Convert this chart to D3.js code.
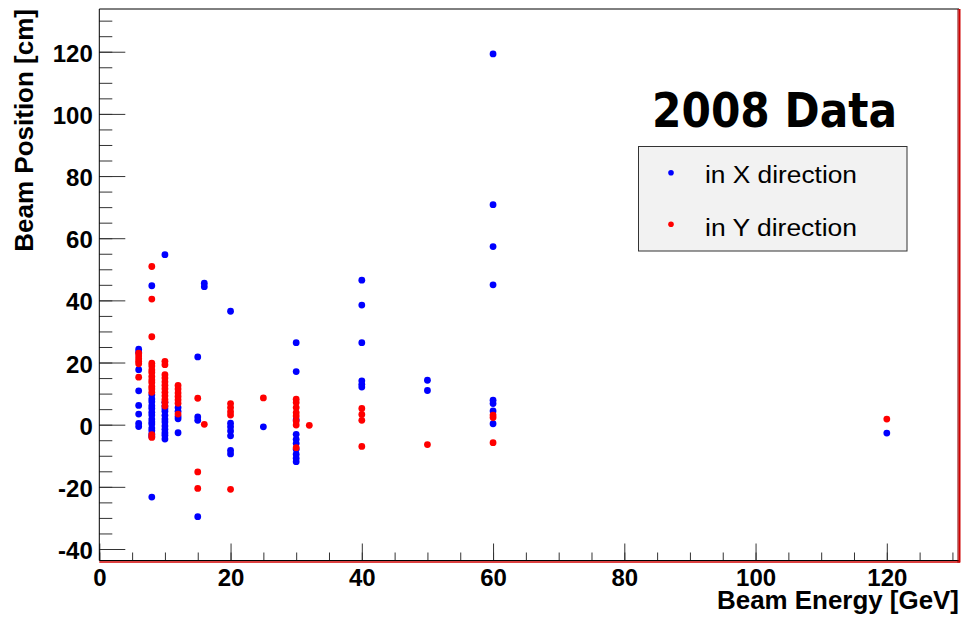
<!DOCTYPE html>
<html>
<head>
<meta charset="utf-8">
<script src="https://cdn.jsdelivr.net/npm/d3@7"></script>
<style>
  body { margin: 0; background: #fff; }
  svg { display: block; }
  text { font-family: "Liberation Sans", Arial, Helvetica, sans-serif; }
</style>
</head>
<body>
<svg id="graph" width="961" height="622"></svg>
<script>
// beam position vs beam energy, 2008 data  [energy GeV, position cm]
const xDirection = [
  [6, 24.3], [6, 23.3], [6, 17.7], [6, 10.9], [6, 6.2], [6, 3.4], [6, 0.4], [6, -0.6],
  [8, 44.7], [8, 9.6], [8, 8.3], [8, 7.4], [8, 6.1], [8, 5.2], [8, 4.0], [8, 3.1], [8, 1.8],
  [8, 0.9], [8, 0.2], [8, -1.1], [8, -1.9], [8, -3.0], [8, -3.8], [8, -23.3],
  [10, 54.7], [10, 7.2], [10, 6.0], [10, 5.1], [10, 4.3], [10, 3.0], [10, 1.8], [10, 0.9],
  [10, -0.4], [10, -1.5], [10, -2.6], [10, -3.4], [10, -4.6],
  [12, 5.5], [12, 4.3], [12, 2.6], [12, 1.9], [12, -2.6],
  [15, 21.8], [15, 2.5], [15, 1.4], [15, -29.6],
  [16, 45.5], [16, 44.4],
  [20, 36.5], [20, 0.5], [20, -0.7], [20, -2.0], [20, -3.6], [20, -8.3], [20, -9.4],
  [25, -0.7],
  [30, 26.4], [30, 17.1], [30, 1.6], [30, -3.1], [30, -4.7], [30, -6.0], [30, -7.9],
  [30, -9.5], [30, -10.8], [30, -11.9],
  [40, 46.5], [40, 38.5], [40, 26.4], [40, 14.1], [40, 13.0], [40, 12.1],
  [50, 14.3], [50, 11.0],
  [60, 119.3], [60, 70.8], [60, 57.3], [60, 45.0], [60, 7.9], [60, 6.8], [60, 4.4], [60, 0.3],
  [120, -2.7]
];
const yDirection = [
  [6, 23.0], [6, 22.1], [6, 21.2], [6, 20.4], [6, 19.6], [6, 15.3],
  [8, 50.9], [8, 40.4], [8, 28.3], [8, 19.8], [8, 18.9], [8, 17.6], [8, 16.8], [8, 15.5],
  [8, 14.4], [8, 13.6], [8, 12.3], [8, 11.5], [8, 10.4], [8, -3.2], [8, -4.1],
  [10, 20.4], [10, 19.3], [10, 16.1], [10, 15.0], [10, 13.8], [10, 12.7], [10, 11.6],
  [10, 10.4], [10, 9.3], [10, 8.1], [10, 7.2], [10, 6.0],
  [12, 12.6], [12, 11.5], [12, 10.2], [12, 9.1], [12, 8.0], [12, 6.9], [12, 3.4],
  [15, 8.5], [15, -15.2], [15, -20.5],
  [16, 0.1],
  [20, 6.8], [20, 5.5], [20, 4.2], [20, 3.1], [20, -20.8],
  [25, 8.6],
  [30, 8.2], [30, 7.1], [30, 5.5], [30, 3.9], [30, 2.8], [30, 1.2], [30, -0.1], [30, -7.4],
  [32, -0.2],
  [40, 5.2], [40, 3.3], [40, 1.4], [40, -7.0],
  [50, -6.4],
  [60, 3.1], [60, 2.3], [60, -5.8],
  [120, 1.8]
];

const xMajorTicks = [0, 20, 40, 60, 80, 100, 120];
const xMinorTicks = d3.range(0, 131, 5);
const yMajorTicks = [-40, -20, 0, 20, 40, 60, 80, 100, 120];
const yMinorTicks = d3.range(-40, 131, 5);
const seriesNames = ["in X direction", "in Y direction"];
const seriesColors = ["#0000ff", "#ff0000"];
const titleText = "2008 Data";

const svg = d3.select("#graph");

// plot frame in pixels
const frameLeft = 99.3, frameRight = 959, frameTop = 9, frameBottom = 560.5;

const x = d3.scaleLinear().domain([0, 131]).range([frameLeft, frameRight]);
const y = d3.scaleLinear().domain([-43.7, 133.75]).range([frameBottom, frameTop]);

// plain hyphen for negatives, like the original
const plainLabel = d => String(d);

// minor ticks first, then major ticks with labels
svg.append("g").attr("transform", `translate(0,${frameBottom})`)
  .call(d3.axisBottom(x).tickValues(xMinorTicks).tickSize(-8).tickFormat(""));
svg.append("g").attr("transform", `translate(${frameLeft},0)`)
  .call(d3.axisLeft(y).tickValues(yMinorTicks).tickSize(-13).tickFormat(""));

svg.append("g").attr("class", "xaxis").attr("transform", `translate(0,${frameBottom})`)
  .call(d3.axisBottom(x).tickValues(xMajorTicks).tickSize(-17).tickPadding(9).tickFormat(plainLabel));
svg.append("g").attr("class", "yaxis").attr("transform", `translate(${frameLeft},0)`)
  .call(d3.axisLeft(y).tickValues(yMajorTicks).tickSize(-26).tickPadding(6.5).tickFormat(plainLabel));

svg.selectAll(".domain").remove();
svg.selectAll(".tick line").attr("stroke", "#333").attr("stroke-width", 1);
svg.selectAll(".tick text")
  .attr("fill", "#000")
  .style("font-size", "24px")
  .style("font-weight", "bold");
svg.selectAll(".xaxis .tick text").attr("dy", "0.7em");
svg.selectAll(".yaxis .tick text").attr("dy", "0.4em");

// frame lines
svg.append("line").attr("x1", frameLeft).attr("x2", frameRight).attr("y1", frameTop).attr("y2", frameTop)
  .attr("stroke", "#000").attr("stroke-width", 1);
svg.append("line").attr("x1", frameLeft).attr("x2", frameLeft).attr("y1", frameTop).attr("y2", frameBottom)
  .attr("stroke", "#000").attr("stroke-width", 1);
svg.append("line").attr("x1", frameLeft).attr("x2", frameRight + 1).attr("y1", frameBottom).attr("y2", frameBottom)
  .attr("stroke", "#000").attr("stroke-width", 1);
svg.append("line").attr("x1", frameLeft).attr("x2", frameRight + 1).attr("y1", frameBottom + 1.5).attr("y2", frameBottom + 1.5)
  .attr("stroke", "#d00000").attr("stroke-width", 1.5);
svg.append("line").attr("x1", frameRight - 1).attr("x2", frameRight - 1).attr("y1", frameTop).attr("y2", frameBottom + 2)
  .attr("stroke", "#7a0000").attr("stroke-width", 1);
svg.append("line").attr("x1", frameRight + 0.5).attr("x2", frameRight + 0.5).attr("y1", frameTop).attr("y2", frameBottom + 2)
  .attr("stroke", "#d00000").attr("stroke-width", 2);

// points: X direction below, Y direction on top
svg.append("g").selectAll("circle")
  .data(xDirection)
  .join("circle")
  .attr("cx", d => x(d[0]))
  .attr("cy", d => y(d[1]))
  .attr("r", 3.4)
  .attr("fill", seriesColors[0]);

svg.append("g").selectAll("circle")
  .data(yDirection)
  .join("circle")
  .attr("cx", d => x(d[0]))
  .attr("cy", d => y(d[1]))
  .attr("r", 3.4)
  .attr("fill", seriesColors[1]);

// axis titles
svg.append("text")
  .attr("x", 959).attr("y", 609)
  .attr("text-anchor", "end")
  .style("font-size", "25px").style("font-weight", "bold")
  .attr("textLength", 242).attr("lengthAdjust", "spacingAndGlyphs")
  .text("Beam Energy [GeV]");
svg.append("text")
  .attr("transform", "translate(32.5,9) rotate(-90)")
  .attr("text-anchor", "end")
  .style("font-size", "26px").style("font-weight", "bold")
  .text("Beam Position [cm]");

// title
svg.append("text")
  .attr("x", 652).attr("y", 126.5)
  .attr("textLength", 245).attr("lengthAdjust", "spacingAndGlyphs")
  .style("font-family", "'Comic Sans MS', 'DejaVu Sans', sans-serif")
  .style("font-size", "48px").style("font-weight", "bold")
  .text(titleText);

// legend
const legend = svg.append("g");
legend.append("rect")
  .attr("x", 638.5).attr("y", 146.5).attr("width", 268.5).attr("height", 104.5)
  .attr("fill", "#f2f2f2").attr("stroke", "#333").attr("stroke-width", 1);
legend.selectAll(".lg-dot")
  .data(seriesNames)
  .join("circle")
  .attr("class", "lg-dot")
  .attr("cx", 671)
  .attr("cy", (d, i) => 172.7 + i * 51.6)
  .attr("r", 2.8)
  .attr("fill", (d, i) => seriesColors[i]);
legend.selectAll(".lg-text")
  .data(seriesNames)
  .join("text")
  .attr("class", "lg-text")
  .attr("x", 705)
  .attr("y", (d, i) => 183.3 + i * 52.4)
  .attr("textLength", 152).attr("lengthAdjust", "spacingAndGlyphs")
  .style("font-size", "23.5px")
  .text(d => d);
</script>
</body>
</html>
